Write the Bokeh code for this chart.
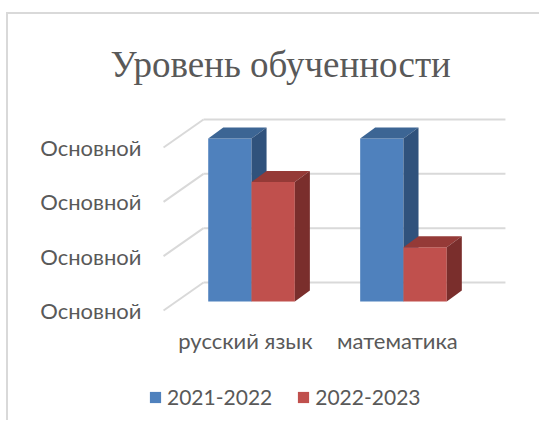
from bokeh.plotting import figure
from bokeh.models import FixedTicker, Legend, LegendItem, Range1d, Title
from bokeh.core.properties import value
from bokeh.embed import file_html
from bokeh.resources import INLINE

# ---- data ----
chart_title = "Уровень обученности"
categories = ["русский язык", "математика"]
series_names = ["2021-2022", "2022-2023"]
values_2021_2022 = [3, 3]
values_2022_2023 = [2.2, 1]
y_ticks = [0, 1, 2, 3]
y_tick_labels = ["Основной", "Основной", "Основной", "Основной"]

# ---- styles ----
FRONT = ["#4F81BD", "#C0504D"]
TOP = ["#3C6594", "#953A37"]
SIDE = ["#30527C", "#7A2E2C"]
GRID = "#D9D9D9"
TEXT = "#595959"
FONT = "Lato"

GROUP_SHIFT = 0.04       # bars drawn slightly right of label position (perspective)
BAR_W = 0.285
BAR_BASE = 0.166
BAR_DX, BAR_DY = 0.099, 0.2
WALL_DX, WALL_DY = 0.263, 0.515
FLOOR_X = -0.539         # front-left corner of the floor
GRID_END = 1.711
CAT_LABEL_Y = -0.56
X0, X1 = -0.638, 1.718
Y0, Y1 = -1.933, 3.681

p = figure(frame_width=358, frame_height=305,
           min_border_left=140, min_border_right=33,
           min_border_top=96, min_border_bottom=5,
           x_range=Range1d(X0, X1), y_range=Range1d(Y0, Y1),
           x_axis_location=None,
           output_backend="svg", toolbar_location=None)
p.outline_line_color = None
p.xgrid.visible = False
p.ygrid.visible = False
p.styles = {"border-left": "2px solid #D9D9D9", "border-top": "2px solid #D9D9D9",
            "margin-top": "12px", "margin-left": "6px"}

p.add_layout(Title(text=chart_title, align="left", offset=-38, standoff=52,
                   text_font="Liberation Serif", text_font_size="37px",
                   text_font_style="normal", text_color=TEXT), "above")

# ---- walls / gridlines ----
back_left = FLOOR_X + WALL_DX
p.segment(x0=[FLOOR_X] * len(y_ticks), y0=y_ticks,
          x1=[back_left] * len(y_ticks), y1=[t + WALL_DY for t in y_ticks],
          line_color=GRID, line_width=2)
p.segment(x0=[back_left] * len(y_ticks), y0=[t + WALL_DY for t in y_ticks],
          x1=[GRID_END] * len(y_ticks), y1=[t + WALL_DY for t in y_ticks],
          line_color=GRID, line_width=2)

# ---- 3D bars ----
legend_items = []
for s, vals in enumerate([values_2021_2022, values_2022_2023]):
    lefts = [i + GROUP_SHIFT + (s - 1) * BAR_W for i in range(len(categories))]
    rights = [l + BAR_W for l in lefts]
    bottoms = [BAR_BASE] * len(vals)
    tops = [BAR_BASE + v for v in vals]
    front = p.quad(left=lefts, right=rights, bottom=bottoms, top=tops,
                   fill_color=FRONT[s], line_color=None)
    top_xs = [[l, r, r + BAR_DX, l + BAR_DX] for l, r in zip(lefts, rights)]
    top_ys = [[t, t, t + BAR_DY, t + BAR_DY] for t in tops]
    p.patches(xs=top_xs, ys=top_ys, fill_color=TOP[s], line_color=None)
    side_xs = [[r, r + BAR_DX, r + BAR_DX, r] for r in rights]
    side_ys = [[b, b + BAR_DY, t + BAR_DY, t] for b, t in zip(bottoms, tops)]
    p.patches(xs=side_xs, ys=side_ys, fill_color=SIDE[s], line_color=None)
    legend_items.append(LegendItem(label=series_names[s], renderers=[front]))

# ---- category labels ----
p.text(x=list(range(len(categories))), y=[CAT_LABEL_Y] * len(categories),
       text=categories, text_align="center", text_baseline="middle",
       text_font=value(FONT), text_font_size="22px", text_color=TEXT)

# ---- value axis ----
p.yaxis.ticker = FixedTicker(ticks=y_ticks)
p.yaxis.major_label_overrides = {t: lab for t, lab in zip(y_ticks, y_tick_labels)}
p.yaxis.axis_line_color = None
p.yaxis.major_tick_line_color = None
p.yaxis.minor_tick_line_color = None
p.yaxis.major_label_standoff = 1
p.yaxis.major_label_text_font = FONT
p.yaxis.major_label_text_font_size = "22px"
p.yaxis.major_label_text_color = TEXT

legend = Legend(items=legend_items, location=(0, 6), orientation="horizontal",
                glyph_width=14, glyph_height=14, label_standoff=5, spacing=24,
                padding=0, margin=0, border_line_color=None,
                background_fill_alpha=0, label_text_font=FONT,
                label_text_font_size="21px", label_text_color=TEXT)
p.add_layout(legend)

open("out.html", "w").write(file_html(p, INLINE))
